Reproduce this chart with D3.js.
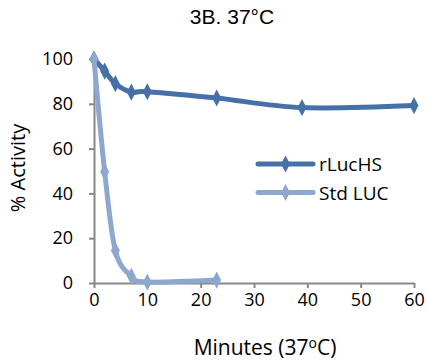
<!DOCTYPE html>
<html><head><meta charset="utf-8">
<script src="https://cdn.jsdelivr.net/npm/d3@7"></script>
<style>body{margin:0;background:#fff}svg{display:block}</style>
</head><body>
<script>
const title = "3B. 37°C";
const xTicks = [0, 10, 20, 30, 40, 50, 60];
const yTicks = [0, 20, 40, 60, 80, 100];
const rLucMinutes = [0, 2, 4, 7, 10, 23, 39, 60];
const rLucValues  = [100, 94.6, 89, 85.2, 85.4, 82.6, 78.3, 79.2];
const stdMinutes  = [0, 2, 4, 7, 10, 23];
const stdValues   = [100, 49.7, 14.5, 3, 0.4, 1.3];
const seriesNames = ["rLucHS", "Std LUC"];
const seriesColors = ["#4571A7", "#8DA7CF"];

const W = 428, H = 364;
const svg = d3.select("body").append("svg").attr("width", W).attr("height", H);
const x = d3.scaleLinear().domain([0, 60]).range([94, 414]);
const y = d3.scaleLinear().domain([0, 100]).range([283, 59]);
const font = "'Open Sans', sans-serif";
const axisColor = "#878787";

svg.append("text").attr("x", 232).attr("y", 24).attr("text-anchor", "middle")
  .attr("font-family", "'Liberation Sans', Arial, sans-serif").attr("font-size", 21)
  .attr("fill", "#000").text(title);

const gx = svg.append("g").attr("transform", `translate(0,${y(0)})`)
  .call(d3.axisBottom(x).tickValues(xTicks).tickSize(5).tickSizeOuter(0).tickPadding(5));
const gy = svg.append("g").attr("transform", `translate(${x(0)},0)`)
  .call(d3.axisLeft(y).tickValues(yTicks).tickSize(5).tickSizeOuter(0).tickPadding(16));
[gx, gy].forEach(g => {
  g.select(".domain").attr("stroke", axisColor).attr("stroke-width", 2);
  g.selectAll(".tick line").attr("stroke", axisColor).attr("stroke-width", 2);
  g.selectAll(".tick text").attr("font-family", font).attr("font-size", 18).attr("fill", "#000");
});

svg.append("text").attr("transform", "translate(25,168) rotate(-90)").attr("text-anchor", "middle")
  .attr("font-family", font).attr("font-size", 20).attr("fill", "#000").text("% Activity");
const xl = svg.append("text").attr("x", 265).attr("y", 355).attr("text-anchor", "middle")
  .attr("font-family", font).attr("font-size", 21).attr("fill", "#000");
xl.append("tspan").text("Minutes (37");
xl.append("tspan").attr("dy", -7).attr("font-size", 14).text("o");
xl.append("tspan").attr("dy", 7).text("C)");

const line = d3.line().x(d => x(d[0])).y(d => y(d[1])).curve(d3.curveCardinal.tension(0));
const diamond = d3.symbol().type(d3.symbolDiamond).size(70);
const series = [
  {name: seriesNames[0], color: seriesColors[0], pts: d3.zip(rLucMinutes, rLucValues)},
  {name: seriesNames[1], color: seriesColors[1], pts: d3.zip(stdMinutes, stdValues)}
];
series.forEach(s => {
  svg.append("path").attr("d", line(s.pts)).attr("fill", "none").attr("stroke", s.color)
    .attr("stroke-width", 5).attr("stroke-linecap", "round").attr("stroke-linejoin", "round");
  svg.selectAll(null).data(s.pts).enter().append("path").attr("d", diamond)
    .attr("transform", d => `translate(${x(d[0])},${y(d[1])}) scale(1,1.1)`).attr("fill", s.color);
});

series.forEach((s, i) => {
  const ly = 164 + i * 28.5;
  svg.append("line").attr("x1", 258).attr("x2", 313).attr("y1", ly).attr("y2", ly)
    .attr("stroke", s.color).attr("stroke-width", 5).attr("stroke-linecap", "round");
  svg.append("path").attr("d", diamond).attr("transform", `translate(285.5,${ly}) scale(1,1.1)`).attr("fill", s.color);
  svg.append("text").attr("x", 319).attr("y", ly + 7).attr("font-family", font).attr("font-size", 19)
    .attr("fill", "#000").text(s.name);
});
</script>
</body></html>
